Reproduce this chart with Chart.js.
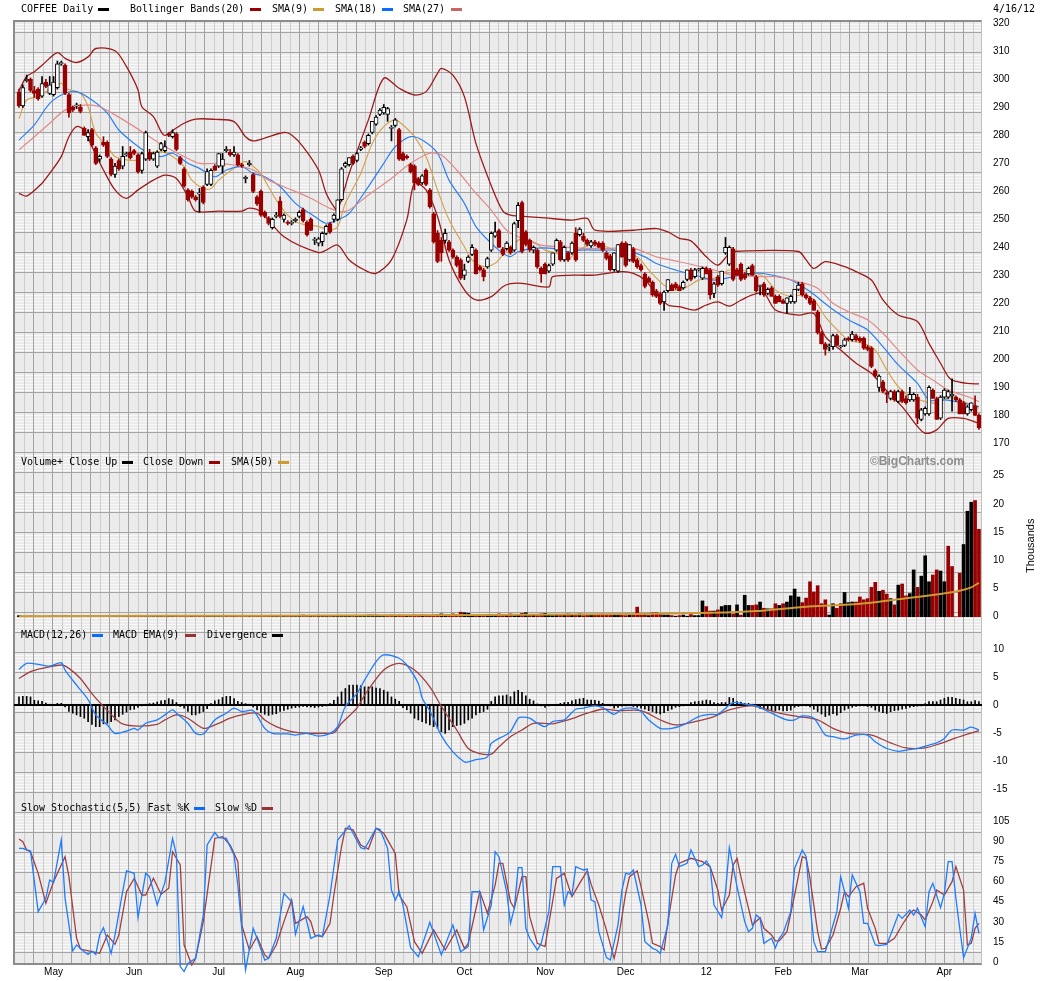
<!DOCTYPE html>
<html>
<head>
<meta charset="utf-8">
<title>COFFEE Daily</title>
<script src="https://cdn.jsdelivr.net/npm/chart.js@4.4.1/dist/chart.umd.min.js"></script>
<style>
  body { margin: 0; background: #fff; }
  #page { position: relative; width: 1045px; height: 981px; overflow: hidden; background: #fff; }
  #page canvas { position: absolute; left: 0; top: 0; }
  .t { position: absolute; font: 10px/12px "DejaVu Sans Mono", monospace; color: #000; white-space: pre; }
  .k { position: absolute; width: 11px; height: 3px; }
  #copy { position: absolute; left: 870px; top: 454px; font: bold 12px/14px "Liberation Sans", sans-serif; color: #8f8f8f; }
  #thou { position: absolute; left: 1004px; top: 541px; width: 52px; font: 11px/12px "Liberation Sans", sans-serif; transform: rotate(-90deg); text-align: center; }
</style>
</head>
<body>
<div id="page">
  <canvas id="price" width="1045" height="981"></canvas>
  <canvas id="volume" width="1045" height="981"></canvas>
  <canvas id="macd" width="1045" height="981"></canvas>
  <canvas id="stoch" width="1045" height="981"></canvas>

  <div class="t" style="left:21px;top:3px">COFFEE Daily</div>
  <div class="k" style="left:98px;top:8px;background:#000"></div>
  <div class="t" style="left:130px;top:3px">Bollinger Bands(20)</div>
  <div class="k" style="left:250px;top:8px;background:#990000"></div>
  <div class="t" style="left:272px;top:3px">SMA(9)</div>
  <div class="k" style="left:313px;top:8px;background:#cc9933"></div>
  <div class="t" style="left:335px;top:3px">SMA(18)</div>
  <div class="k" style="left:382px;top:8px;background:#0a6cff"></div>
  <div class="t" style="left:403px;top:3px">SMA(27)</div>
  <div class="k" style="left:451px;top:8px;background:#cc6666"></div>
  <div class="t" style="left:993px;top:3px">4/16/12</div>

  <div class="t" style="left:21px;top:456px">Volume+ Close Up</div>
  <div class="k" style="left:122px;top:461px;background:#000"></div>
  <div class="t" style="left:143px;top:456px">Close Down</div>
  <div class="k" style="left:209px;top:461px;background:#990000"></div>
  <div class="t" style="left:231px;top:456px">SMA(50)</div>
  <div class="k" style="left:278px;top:461px;background:#cc9933"></div>
  <div id="copy">©BigCharts.com</div>
  <div id="thou">Thousands</div>

  <div class="t" style="left:21px;top:629px">MACD(12,26)</div>
  <div class="k" style="left:92px;top:634px;background:#0a6cff"></div>
  <div class="t" style="left:113px;top:629px">MACD EMA(9)</div>
  <div class="k" style="left:185px;top:634px;background:#993333"></div>
  <div class="t" style="left:207px;top:629px">Divergence</div>
  <div class="k" style="left:272px;top:634px;background:#000"></div>

  <div class="t" style="left:21px;top:802px">Slow Stochastic(5,5) Fast %K</div>
  <div class="k" style="left:194px;top:807px;background:#0a6cff"></div>
  <div class="t" style="left:215px;top:802px">Slow %D</div>
  <div class="k" style="left:262px;top:807px;background:#993333"></div>
</div>

<script>
// daily candles, trading day 0 = mid April 2011 ... 250 = 16 Apr 2012: [open, high, low, close]
const ohlc = [
  [295.5,296.5,290,290.5],[290.5,298,290,297],[299.5,301.5,299,300],[300,300.5,295.5,296],[296,297.5,293.5,295],
  [296.5,297,292.5,293],[294,301,293.5,298.5],[299,300,297,297.5],[295,301,294.5,298],[294.5,301,294,299],
  [297,306.5,296.5,305.5],[305.5,306.5,305,306],[305,305.5,294.5,295],[294.5,295,286.5,288],[290,290.5,288.5,289],
  [290.5,291.5,289.5,290.5],[290,291,288,288.5],[282.5,283,280,280],[279.5,282,278,281],[282,282.5,276,276.5],
  [275.5,276,269.5,270],[271.5,273,270.5,272.5],[277.5,279.5,276,276.5],[277.5,278,272,272.5],[271.5,272,265.5,266],
  [266,270,265,269],[271,271.5,267.5,268],[269,276,268,272.5],[273,274,272.5,273.5],[274,276,271.5,272],
  [274.5,275,273,273.5],[273,273.5,266.5,267],[267.5,274,266.5,273.5],[271.5,281.5,271,281],[274,275,271,271.5],
  [271.5,274,271,273.5],[269,274.5,268.5,274],[275,277.5,274.5,277],[274.5,278,274,276],[280.5,281,279.5,280],
  [279.5,282,279,281],[280.5,281,274.5,275],[272,272.5,269.5,270],[268,268.5,261.5,262],[260.5,261,256.5,257],
  [260,260.5,257.5,258],[258,258.5,256.5,257],[259,261,252.5,259.5],[261.5,262,255.5,256],[262.5,268,262,267],
  [262.5,268,262,267.5],[269,269.5,267.5,267.5],[269,273.5,268.5,273.5],[269,273.5,266.5,271.5],[274.5,276,274,275],
  [274,275,272.5,273],[273,276,272.5,274],[273,273.5,269,269.5],[269.5,270,268.5,269],[264.5,265.5,263,265],
  [269.5,271,269,270],[266,266.5,259.5,260],[258,258.5,255,255.5],
  [260,260.5,251,251.5],[252.5,253,250.5,251],[250.5,251,248,248.5],[247,250.5,246.5,250],[251,252.5,250.5,251.5],
  [256.5,258,250.5,251],[250,252,249,251.5],[249,249.5,248,248.5],[248.5,249.5,248,249],[249.5,250.5,249,250],
  [251,253,250.5,252.5],[253.5,254,249,249.5],[249,249.5,244,244.5],[250,250.5,246,246],[242.5,243.5,241,242.5],
  [241.5,243.5,240.5,243],[242,245.5,240.5,245],[245,248,244.5,247.5],[248.5,249,245,245.5],[250,252,249,251.5],
  [250,257,249.5,257],[257,268.5,256.5,268],[269,270.5,268.5,270],[269.5,272,269,272],[272.5,273,269.5,270],
  [271,274,270.5,273.5],[275,276,274.5,275.5],[277.5,278,275.5,276],[277,280.5,276.5,280],[281,285,280.5,285],
  [284,287,283.5,286.5],[287.5,289.5,287,289],[288,291,287.5,290],[287.5,290,285,289.5],[282.5,283.5,278,282.5],
  [283.5,286,283,285.5],[282,282.5,271,271.5],[273.5,274,271,271],[272.5,273,271.5,272],[269.5,270,266.5,267],
  [269,269.5,260.5,263],[264.5,265,262,262.5],[263,266,262.5,265.5],[267.5,268,262,262.5],[260.5,261,254,254.5],
  [252,252.5,241.5,242],[245,246,234.5,235],[242.5,243.5,235,238],[242.5,246.5,241.5,245],[242,242.5,238.5,239],
  [239,239.5,236,236.5],[236.5,237,233,233.5],[235.5,236,228.5,229],[230,234,228.5,232],[235,237,234.5,236.5],
  [237.5,241,237,240],[239,239.5,230.5,230.5],[233,233.5,231.5,232],[232,232.5,228,229.5],[233,236.5,232.5,236],
  [239,245.5,238.5,245],[244,249,243.5,245.5],[246,246.5,240,240],[239.5,240,237,237.5],[239.5,242,239,241.5],
  [240,240.5,237.5,238],[239,249,238.5,248.5],[249.5,256,247,255],[256,256.5,238,238.5],[245.5,246,240.5,241],
  [242.5,243,238.5,239],[239,240.5,238,240],[239,239.5,232.5,233],[232.5,233,227.5,230.5],[234,234.5,230.5,230.5],
  [231.5,234,231,233.5],[234,238,233.5,238],[239,243,238.5,242.5],[242,242.5,235,235.5],[235.5,240.5,235,240],
  [238,238.5,235,235.5],[238,242,237.5,241.5],[245,247,235,235.5],[244.5,247,244,246.5],[244,245,242,242.5],
  [242.5,243,240.5,241],[240.5,242.5,240,242],[242,242.5,240.5,241],[241.5,242,240,240],[241.5,242,238.5,239],
  [238,238.5,235.5,236],[237,237.5,231.5,232],[232,238,231.5,238],[231.5,241,231,241],[241.5,242,236.5,236.5],
  [241.5,242,233,233.5],[235.5,241,235,241],[239.5,240,234.5,235],[235.5,236,232.5,233],[233.5,234,231.5,232],
  [230.5,231,225.5,226],[229,229.5,227.5,227.5],[227.5,228,222.5,223],[224.5,225,222,222.5],[223.5,224,219.5,220],
  [220.5,224.5,217.5,224],[224.5,228.5,224,228.5],[226.5,227,224.5,224.5],[227,227.5,225,225.5],[226,226.5,224.5,224.5],
  [225.5,228,225,227.5],[228.5,232,228,232],[232,232.5,228,228.5],[229.5,232.5,229,232],[232,232.5,231.5,232],
  [229,233,228.5,232.5],[232.5,233,230.5,230.5],[232,232.5,221.5,223],[223.5,227.5,222,227],[229.5,230,226,226.5],
  [227,231.5,226.5,231.5],[238,243.5,237.5,240],[234,240.5,233.5,240],[239.5,240,228,228.5],[232,232.5,230,230],
  [234,234.5,228,228.5],[230.5,231,228.5,229],[230.5,233,230,232.5],[233.5,234,230,230],[229.5,230,224,224.5],
  [226,226.5,223,226],[227,227.5,222.5,223],[223.5,225.5,223,225],[225.5,226,222.5,222.5],[222.5,223,220,220],
  [222.5,223,220.5,220.5],[221,221.5,220,220],[220,222,216.5,222],[220.5,223,220,222.5],[220.5,225,220,225],
  [225,227.5,224.5,226.5],[227,227.5,222.5,223],[223,223.5,221.5,222],[222,222.5,219.5,220],[221,221.5,217.5,217.5],
  [217,217.5,209,209.5],[209.5,210,205.5,205.5],[205.5,206,201.5,203.5],[204.5,205.5,203,204.5],[204.5,209,203.5,208.5],
  [208.5,209,205,205],[204.5,205,204,204.5],[205,207.5,204.5,207],[207.5,208,206.5,207],[207,210,206.5,209],
  [208.5,209,206.5,207],[207.5,208,206,206.5],[207.5,208,203.5,204],[204.5,205,203,203.5],[204,204.5,197,197.5],
  [196,196.5,193.5,194],[190,194.5,188.5,194],[192,192.5,188,188.5],[188,188.5,184.5,187.5],[186,189,185.5,188.5],
  [188.5,189,185,185.5],[185,189,184.5,188.5],[188.5,189,184.5,185],[186,187,184,184.5],[185.5,190,185,187.5],
  [185.5,188,185,187.5],[186.5,187.5,177,179],[178.5,182.5,178,182],[180.5,183,180,182.5],[180.5,190.5,180,190],
  [189,189.5,186,186],[186,186.5,178.5,178.5],[179,187,178.5,186.5],[186.5,189.5,186,189],[186.5,189,186,188.5],
  [187,193,181.5,187.5],[186.5,187,185,185.5],[185.5,186,180.5,180.5],[184.5,185,180.5,180.5],[180.5,183.5,180,183],
  [182,184.5,181.5,184.5],[183.5,187,180,180],[180,180.5,175,175.5]
];

// overlays: [trading day, value]
const bbUpper = [[0,296],[2,301],[4,302.7],[6,305],[10,309.5],[12,307.5],[15,306],[18,308],[20,311],[25,310.2],[28,304.5],[31,296.2],[32,290.2],[35,286.7],[37,281.3],[38,280],[40,281.7],[43,284.3],[46,285.8],[51,285.7],[56,284.9],[59,279.5],[61,278],[64,279],[69,281],[71,280.1],[74,275.9],[78,267.6],[80,259.3],[82,254.5],[83,253.3],[86,266.4],[91,285.5],[95,300.4],[99,296.8],[103,294.4],[106,295.6],[109,302.1],[110,303.9],[113,301.5],[116,293.8],[119,277.1],[123,262],[126,253],[128,251.5],[133,250.9],[137,250.5],[144,249.7],[148,250.3],[150,246.1],[160,246.1],[166,246.7],[169,245.5],[172,243.2],[175,242.3],[179,236.6],[182,233.6],[185,237.8],[187,238.6],[203,238.5],[205,235.5],[207,232.5],[210,234.9],[215,233.1],[218,231.3],[222,228.3],[225,221.2],[229,215.8],[234,213.5],[237,205.7],[240,198.6],[242,193.8],[243,192.6],[247,191.4],[250,191.2]];
const bbLower = [[0,259.3],[2,258.3],[6,262.9],[8,266.4],[11,272.4],[13,279.5],[15,283.1],[17,281.9],[19,276],[22,267.6],[25,260.5],[28,257.5],[31,260.5],[35,264],[38,265.8],[41,264.6],[44,258.1],[46,252.9],[52,252.9],[58,252.9],[60,254],[63,252.7],[69,243.8],[78,238.1],[80,239],[83,240.8],[86,235.5],[90,231.9],[93,230.7],[97,235.5],[101,249.8],[103,262.9],[106,260.5],[109,251],[112,235.5],[116,224.8],[119,221.2],[123,222.4],[126,225.9],[128,227],[131,227.1],[138,225.9],[139,229.5],[150,230.1],[157,231.3],[160,230.7],[163,228.3],[166,223.5],[169,219.4],[172,218.8],[176,217.6],[179,219.4],[182,220.5],[185,219],[188,221.1],[191,223],[194,223.6],[197,217.6],[203,215.8],[207,216.4],[210,208.1],[214,203.3],[218,198.6],[222,195],[225,190.2],[230,183.1],[234,176],[236,173.6],[239,174.8],[242,178.9],[246,178.9],[250,177.2]];
const sma9 = [[0,286],[2,292.6],[5,293.8],[11,298.6],[12,296.8],[16,295],[18,290.2],[20,280.7],[23,276],[25,272.4],[28,271.2],[31,271.2],[33,273],[37,274.2],[40,272.4],[43,268.8],[45,264],[48,261],[50,261],[52,264],[56,268.2],[59,270.6],[63,266.4],[64,264],[67,256.9],[70,251.5],[73,248.6],[78,247.4],[81,246.2],[83,247.4],[85,255.7],[89,266.4],[92,277.1],[95,283.1],[98,285.5],[100,283.7],[103,279.5],[106,272.4],[109,260.5],[112,249.8],[116,240.2],[118,235.5],[121,233.1],[124,234.3],[126,237.3],[128,240.2],[131,243.2],[134,242],[137,239],[140,237.8],[143,235.4],[145,238.4],[150,241.4],[153,240.2],[157,237.8],[161,236.6],[164,231.9],[168,226.5],[171,224.7],[174,225.9],[177,228.3],[181,228.9],[185,231.9],[190,231.3],[194,229.5],[197,224.8],[201,222.4],[204,223],[207,221.2],[210,215.2],[214,209.3],[216,206.9],[220,205.7],[223,203.3],[226,196.2],[229,190.2],[232,186.7],[236,184.9],[239,184.3],[243,186.7],[246,184.9],[250,182.5]];
const sma18 = [[0,278.3],[4,283.7],[8,291.4],[12,295],[15,295.6],[19,292.6],[23,287.9],[26,281.9],[30,277.1],[33,274.2],[37,272.4],[40,273.6],[44,270],[47,268.2],[51,265.2],[54,267.6],[58,268.8],[61,266.4],[64,265.2],[68,261.7],[72,255.7],[77,251],[80,248.6],[83,249.8],[86,252.1],[91,261.7],[95,270],[98,275.9],[102,279.5],[105,278.3],[109,273.6],[112,264],[116,255.7],[119,247.4],[123,241.4],[126,237.9],[128,236.7],[130,238.4],[134,239.6],[139,239.6],[143,238.4],[146,239],[151,239],[158,238.8],[163,236.6],[166,234.2],[171,231.9],[176,230.1],[181,228.3],[186,229.5],[191,230.9],[196,230.1],[201,228.3],[206,224.2],[211,218.8],[216,214.1],[221,210.5],[225,204.5],[229,198],[234,191.4],[237,185.5],[241,185.5],[244,184.9],[250,183.1]];
const sma27 = [[0,274.8],[4,279.5],[8,284.3],[12,289],[17,290.8],[21,290.2],[25,287.3],[30,283.1],[34,279.5],[38,276],[43,272.4],[47,270],[52,270],[56,269.4],[61,267.6],[65,264],[71,260.5],[76,257.5],[81,253.9],[84,252.7],[86,253.3],[91,258.7],[97,264.6],[102,270],[107,273.6],[110,273],[114,267.6],[119,259.3],[123,253.3],[127,246.1],[131,243.2],[136,240.8],[141,240.2],[148,239.6],[153,239.6],[160,239.6],[166,236.6],[170,235.4],[176,233.6],[181,231.9],[186,230.1],[193,229.5],[197,229.5],[203,227.7],[208,225.4],[212,220],[216,217],[221,214.1],[225,209.3],[229,203.3],[234,196.2],[238,192.6],[242,189],[247,186.7],[250,184.9]];

// volume, thousands of contracts, one per trading day
const volume = [
  0.2,0.1,0.1,0.15,0.1,0.1,0.05,0.1,0.1,0.15,0.1,0.1,0.2,0.1,0.1,0.05,0.1,0.1,0.1,0.1,
  0.1,0.05,0.1,0.1,0.1,0.1,0.15,0.1,0.1,0.1,0.1,0.1,0.1,0.05,0.1,0.1,0.1,0.1,0.1,0.1,
  0.1,0.1,0.15,0.1,0.1,0.1,0.1,0.05,0.1,0.1,0.1,0.1,0.1,0.1,0.1,0.1,0.1,0.05,0.1,0.1,
  0.1,0.1,0.1,0.15,0.1,0.1,0.1,0.1,0.1,0.1,0.1,0.1,0.1,0.15,0.3,0.1,0.1,0.1,0.1,0.1,
  0.1,0.15,0.1,0.2,0.1,0.1,0.1,0.1,0.1,0.1,0.2,0.3,0.3,0.3,0.2,0.2,0.1,0.3,0.2,0.3,
  0.2,0.2,0.1,0.3,0.2,0.3,0.3,0.2,0.3,0.4,0.5,0.3,0.3,0.5,0.4,0.8,0.7,0.6,0.3,0.3,
  0.3,0.2,0.2,0.3,0.3,0.5,0.3,0.3,0.5,0.2,0.4,0.6,0.7,0.3,0.3,0.2,0.5,0.6,0.3,0.2,
  0.3,0.4,0.3,0.5,0.3,0.3,0.5,0.2,0.3,0.3,0.4,0.3,0.5,0.3,0.4,0.3,0.4,0.3,0.2,0.3,
  0.3,1.7,0.5,0.5,0.2,0.7,0.7,0.5,0.3,0.3,0.2,0.1,0.2,0.3,0.1,0.4,0.2,0.2,2.8,1.8,
  1.0,1.0,1.2,1.8,2.0,2.0,0.5,2.1,0.3,3.8,2.0,2.0,2.1,2.6,1.5,1.4,1.4,2.3,2.0,2.3,
  2.6,3.7,4.9,3.5,2.5,3.3,6.2,4.4,5.5,2.3,3.0,0.3,2.3,1.5,2.3,4.3,2.5,2.6,2.6,3.5,
  3.0,3.2,5.2,6.1,4.5,4.7,4.0,3.2,2.1,5.6,5.8,3.7,4.1,8.3,5.2,7.2,10.8,6.2,7.4,8.3,
  8.1,6.2,12.5,8.9,0,7.7,12.8,18.7,20.3,20.6,15.5
];
const volSma50 = [[0,0.1],[40,0.15],[80,0.2],[120,0.3],[162,0.5],[184,0.75],[192,1.0],[205,1.78],[214,2.07],[222,2.49],[231,3.26],[240,4.04],[245,4.6],[248,5.2],[250,6.0]];

// MACD(12,26), its EMA(9) and the divergence histogram
const macdLine = [[0,6.4],[2,7.5],[5,7.3],[8,7.0],[11,7.6],[12,6.3],[15,3.6],[18,1.0],[20,-1.7],[23,-3.5],[25,-5.0],[28,-4.6],[30,-4.1],[31,-4.4],[33,-3.2],[36,-2.6],[38,-1.7],[40,-0.8],[41,-1.4],[44,-3.2],[46,-5.0],[48,-5.1],[51,-2.6],[54,-1.4],[56,-0.5],[58,-1.1],[61,-0.95],[64,-4.1],[66,-5.0],[70,-5.1],[72,-5.3],[75,-5.0],[78,-5.5],[81,-5.0],[83,-3.8],[85,-0.2],[88,2.1],[90,4.5],[93,7.8],[95,9.0],[99,8.4],[101,7.2],[104,3.9],[105,1.3],[107,-1.0],[110,-5.4],[113,-8.3],[116,-10.1],[117,-10.1],[119,-9.7],[122,-9.2],[123,-6.8],[127,-5.2],[128,-4.7],[130,-2.3],[131,-2.1],[133,-2.3],[135,-3.2],[137,-3.8],[139,-2.9],[142,-2.6],[143,-2.0],[145,-0.7],[147,-0.5],[150,-0.1],[152,-0.4],[155,-1.6],[157,-0.7],[160,-0.5],[162,-1.1],[164,-2.6],[167,-4.1],[170,-4.1],[173,-3.5],[177,-2.0],[180,-1.6],[182,-1.6],[186,0.5],[189,0.2],[192,-0.1],[196,-1.4],[200,-2.6],[202,-2.6],[204,-1.9],[207,-2.3],[210,-5.3],[212,-5.6],[215,-6.0],[218,-5.3],[221,-5.3],[223,-6.5],[226,-7.7],[229,-8.2],[231,-8.0],[234,-7.7],[237,-7.1],[239,-6.7],[241,-5.9],[243,-4.4],[246,-4.4],[248,-3.9],[250,-4.4]];
const macdEma = [[0,4.8],[3,6.0],[6,6.6],[11,7.2],[13,6.6],[16,4.8],[19,2.1],[22,-0.2],[25,-2.3],[27,-3.3],[31,-3.7],[36,-3.4],[38,-2.6],[41,-1.7],[44,-2.3],[48,-4.1],[51,-3.5],[55,-2.3],[58,-1.7],[62,-1.4],[64,-2.6],[67,-3.8],[71,-4.7],[75,-5.0],[79,-5.0],[82,-4.9],[84,-3.2],[88,-0.5],[90,1.8],[95,6.3],[99,7.5],[103,6.3],[107,3.3],[110,-0.2],[114,-4.4],[117,-7.7],[120,-8.6],[123,-8.7],[125,-7.4],[128,-5.6],[131,-4.4],[134,-3.2],[139,-3.3],[143,-2.6],[148,-1.4],[152,-0.7],[156,-0.95],[162,-0.95],[167,-2.6],[171,-3.5],[176,-2.9],[181,-2.0],[185,-0.8],[191,-0.1],[198,-1.4],[203,-2.0],[208,-2.6],[212,-4.1],[216,-5.0],[222,-5.3],[227,-6.7],[231,-7.6],[236,-7.6],[240,-6.8],[244,-5.8],[250,-4.5]];
const divergence = [
  1.5,1.6,1.6,1.5,0.9,0.8,0.7,0.4,0.2,0.1,0.35,0.35,
  -0.3,-1.1,-1.4,-1.7,-2.0,-2.3,-2.9,-3.4,-3.8,-3.8,-3.3,-3.2,-2.9,-2.6,-2.0,-1.6,-1.2,-0.8,-0.7,-0.35,-0.1,
  0.2,0.3,0.4,0.6,0.8,0.9,1.2,1.0,0.5,
  -0.2,-0.5,-1.1,-1.7,-1.7,-1.4,-1.1,-0.6,
  0.3,0.8,1.0,1.4,1.6,1.6,1.2,0.7,0.5,0.3,0.2,
  -0.3,-0.8,-1.3,-1.6,-1.8,-1.6,-1.5,-1.1,-0.9,-0.7,-0.5,-0.4,-0.3,-0.2,-0.3,-0.3,-0.4,-0.3,-0.2,-0.1,
  0.3,0.9,1.5,2.4,3.0,3.6,3.6,3.6,3.5,3.3,3.3,3.3,3.1,3.0,2.7,2.4,1.5,1.1,0.7,
  -0.4,-0.8,-1.4,-2.3,-2.6,-2.9,-3.2,-3.5,-3.8,-4.1,-4.7,-5.0,-4.4,-3.8,-3.6,-3.5,-3.2,-2.6,-2.3,-1.7,-1.3,-1.1,-0.7,
  0.7,1.5,1.7,
  1.7,1.85,1.55,2.4,2.7,2.3,1.7,1.1,0.8,0.25,-0.1,-0.35,-0.1,0.1,0.2,0.35,0.5,0.55,0.8,1.0,
  1.15,1.25,0.95,0.95,0.9,0.75,0.35,0.05,-0.1,-0.5,-0.35,-0.15,-0.1,0.1,-0.2,-0.35,-0.5,-0.7,-0.95,-1.1,
  -1.4,-1.55,-1.3,-0.95,-0.7,-0.35,-0.25,-0.1,0.2,0.5,0.65,0.7,0.8,0.95,0.85,0.5,0.35,0.5,0.5,1.4,
  1.25,0.65,0.6,0.35,0.35,0.2,-0.25,-0.55,-0.7,-0.85,-1.0,-1.0,-0.85,-1.0,-0.95,-0.85,-0.35,-0.2,-0.1,-0.1,
  -0.3,-0.7,-1.1,-1.55,-2.0,-1.75,-1.5,-1.75,-1.3,-0.85,-0.55,-0.35,-0.2,-0.1,-0.1,-0.2,-0.35,-0.85,-1.1,-1.3,
  -1.45,-1.15,-0.95,-0.85,-0.7,-0.55,-0.35,-0.25,-0.15,-0.1,0.3,0.65,0.65,0.65,0.95,1.25,1.45,1.45,1.25,1.1,
  0.95,0.65,0.65,0.85,0.65
];

// slow stochastic(5,5)
const fastK = [[0,84.7],[1,84.7],[3,82.7],[5,37.6],[7,47.5],[8,61.2],[9,59.4],[11,90.9],[12,47.5],[14,8.3],[15,12.8],[17,7.8],[18,5.8],[19,8.3],[20,5.8],[21,20.2],[22,25.7],[24,6.6],[25,20.2],[27,52.5],[28,67.9],[30,66.1],[31,33.1],[33,66.1],[34,63.6],[36,42.5],[38,59.4],[40,92.1],[41,79.8],[42,-3.3],[43,-7.0],[44,-0.9],[46,2.9],[48,35.1],[49,87.2],[51,96.6],[52,92.7],[54,92.1],[56,79.8],[57,57.4],[59,-5.8],[61,25.2],[62,17.8],[64,1.6],[65,2.9],[67,17.8],[69,51.2],[71,45],[72,20.7],[74,41.3],[76,17.8],[78,20.2],[79,19],[81,50],[83,90.9],[86,101.6],[87,95.9],[89,85.2],[90,84.2],[93,99.6],[94,98.9],[96,84.7],[97,53.7],[98,46.3],[99,52.5],[100,42.5],[102,10.8],[104,4.1],[107,29.7],[110,5.4],[113,27.7],[115,7.8],[117,11.6],[118,52.5],[120,52.5],[121,24],[123,42.5],[124,82.2],[125,78.5],[127,52.5],[128,28.9],[129,40.1],[130,70.3],[131,70.3],[132,25.2],[133,17.8],[135,9.1],[136,14],[138,37.6],[139,71.1],[141,71.1],[142,42.5],[143,52.5],[144,50],[145,71.1],[147,68.6],[148,69.3],[149,46.3],[150,45],[151,22.7],[153,3.4],[154,1.6],[156,27.7],[157,53],[158,66.1],[159,65.4],[160,68.6],[162,42.5],[163,15.3],[165,10.3],[166,9.1],[167,6.6],[169,27.7],[170,73.6],[171,80.3],[172,71.1],[174,73.6],[175,83.5],[177,71.1],[178,72.3],[179,75.3],[180,71.1],[181,42.5],[183,33.1],[184,52.5],[185,85.2],[187,56.2],[189,30.2],[190,22.7],[191,25.2],[192,35.1],[193,32.6],[194,14],[196,17.8],[197,10.8],[198,17.8],[199,21.5],[201,37.6],[202,69.8],[204,83.5],[205,78.5],[206,43.8],[207,15.3],[208,7.8],[210,7.8],[211,17.8],[213,37.6],[214,63.6],[215,52.5],[216,40.1],[217,64.9],[219,52.5],[220,28.9],[221,28.9],[223,12.8],[224,12.3],[226,13.3],[227,20.2],[229,35.6],[230,32.6],[232,38.8],[233,35.1],[234,40.1],[236,26.4],[237,52.5],[238,58.7],[240,40.6],[241,51.2],[242,74.8],[243,74.8],[244,47.5],[245,25.2],[246,3.4],[248,17.8],[249,36.4],[250,21.5]];
const slowD = [[0,91.7],[1,89.7],[2,83.5],[3,82.2],[5,66.1],[7,43.8],[9,59.9],[12,78.5],[13,63.6],[15,17.8],[16,9.8],[19,7.8],[21,6.6],[23,20.2],[25,13.3],[26,20.2],[28,52.5],[30,62.4],[32,50],[33,50],[35,62.4],[37,50.5],[39,55],[40,82.2],[42,72.3],[43,12.8],[45,-2.1],[46,2.9],[48,30.2],[51,92.1],[53,93.4],[55,87.2],[57,74.8],[58,27.7],[60,9.1],[62,19],[64,5.4],[65,2.9],[67,12.8],[69,30.2],[71,46.3],[72,28.9],[75,33.9],[76,30.2],[77,20.2],[79,19],[81,28.9],[82,50],[84,85.9],[85,99.6],[87,98.4],[89,87.2],[91,84.2],[93,99.6],[95,95.9],[98,81],[99,50],[101,41.3],[103,15.3],[105,6.6],[108,24],[111,9.1],[114,24],[116,10.3],[117,14],[120,52.5],[122,36.4],[124,57.4],[125,73.6],[126,73.6],[128,45],[129,40.1],[131,63.6],[132,63.6],[133,33.9],[135,14],[137,11.6],[138,28.9],[140,62.4],[142,66.1],[143,57.4],[144,48.8],[146,58.7],[148,67.9],[149,57.9],[151,42.5],[153,23.9],[155,2.9],[156,15.3],[158,51.2],[159,63.6],[161,67.9],[162,56.2],[164,30.2],[165,14],[167,11.6],[168,9.1],[169,30.2],[171,64.9],[172,73.6],[175,77.3],[178,74.8],[180,71.1],[182,53.7],[183,38.8],[185,50],[186,72.3],[187,77.3],[188,63.6],[190,40.1],[191,27.7],[193,33.1],[194,25.2],[196,20.2],[197,15.8],[198,15.8],[200,22.7],[202,50],[204,78.5],[205,77.3],[206,62.4],[208,22.7],[209,9.8],[210,10.3],[212,20.2],[214,40.1],[215,52.5],[216,48.8],[218,56.2],[220,58.7],[221,40.1],[223,25.2],[224,14],[226,14],[228,17.8],[230,27.7],[232,36.4],[233,38.8],[235,35.1],[236,31.4],[238,45],[239,53.7],[241,50],[243,59.9],[244,71.1],[246,53.7],[247,12.8],[248,14],[249,25.2],[250,28.9]];

// axis labels
const priceTicks = [170,180,190,200,210,220,230,240,250,260,270,280,290,300,310,320];
const volTicks = [0,5,10,15,20,25];
const macdTicks = [-15,-10,-5,0,5,10];
const stochTicks = [0,15,30,45,60,75,90,105];
const monthDays = [9,30,52,72,95,116,137,158,179,199,219,241];
const monthLabels = ['May','Jun','Jul','Aug','Sep','Oct','Nov','Dec','12','Feb','Mar','Apr'];

const W = 1045, H = 981;
const PLOT_RIGHT = 982;
const DOWN = '#990000';

Chart.defaults.font.family = '"Liberation Sans", Arial, sans-serif';
Chart.defaults.font.size = 10;
Chart.defaults.color = '#000';

// grey chart paper with weekly columns and 20px rows
const panelGrid = {
  id: 'panelGrid',
  beforeDraw(chart, args, opts) {
    const { ctx, chartArea: a } = chart;
    const w = a.right - a.left, h = a.bottom - a.top;
    ctx.save();
    ctx.beginPath();
    ctx.rect(a.left, a.top, w, h);
    ctx.clip();
    ctx.fillStyle = '#ebebeb';
    ctx.fillRect(a.left, a.top, w, h);
    ctx.fillStyle = '#f9f9f9';
    for (let k = Math.floor((a.top - 12) / 20); 12 + 20 * k < a.bottom; k++) {
      if (((k % 2) + 2) % 2 !== 0) continue;
      const y0 = 12 + 20 * k;
      for (let s = 3; s < 20; s += 3) ctx.fillRect(a.left, y0 + s, w, 1);
    }
    for (let j = -1; j < 60; j++) {
      const x = 33.3 + 18.98 * j;
      ctx.fillStyle = '#cdcdcd';
      ctx.fillRect(Math.round(x + 9.49), a.top, 1, h);
      ctx.fillStyle = '#a3a3a3';
      ctx.fillRect(Math.round(x), a.top, 1, h);
    }
    ctx.fillStyle = '#a3a3a3';
    for (let y = 12 + 20 * Math.ceil((a.top - 12) / 20); y < a.bottom; y += 20) {
      ctx.fillRect(a.left, y, w, 1);
    }
    ctx.restore();
    ctx.save();
    ctx.fillStyle = '#8c8c8c';
    ctx.fillRect(a.left - 1, a.top, 2, h);
    if (opts.top) ctx.fillRect(a.left - 1, a.top - 1, w + 1, 2);
    if (opts.bottom) ctx.fillRect(a.left - 1, a.bottom - 1, w + 1, 2);
    ctx.fillStyle = '#c0c0c0';
    ctx.fillRect(a.right - 1, a.top, 1, h);
    ctx.restore();
  },
  beforeDatasetsDraw(chart, args, opts) {
    if (!opts.zero) return;
    const { ctx, chartArea: a } = chart;
    const y = Math.round(chart.scales.y.getPixelForValue(0));
    ctx.save();
    ctx.fillStyle = '#000';
    ctx.fillRect(a.left, y - 1, a.right - a.left, 2);
    ctx.restore();
  }
};

function panelOptions(top, bottom, yMin, yMax, yTicks, extra) {
  extra = extra || {};
  return {
    responsive: false,
    animation: false,
    events: [],
    layout: { padding: { left: 14, right: 0, top: top, bottom: extra.showX ? 0 : H - bottom }, autoPadding: false },
    plugins: {
      legend: { display: false },
      tooltip: { enabled: false },
      panelGrid: { zero: !!extra.zero, top: !!extra.top, bottom: !!extra.showX }
    },
    scales: {
      x: {
        type: 'linear', min: -1.3, max: 250.8, offset: false,
        display: !!extra.showX,
        grid: { display: false, drawTicks: false, offset: false },
        border: { display: false },
        afterFit: s => { if (extra.showX) s.height = H - bottom; },
        afterBuildTicks: s => { s.ticks = monthDays.map(v => ({ value: v })); },
        ticks: { autoSkip: false, maxRotation: 0, padding: 2, callback: (v, i) => monthLabels[i] }
      },
      y: {
        type: 'linear', position: 'right', min: yMin, max: yMax, beginAtZero: false,
        grid: { display: false, drawTicks: false },
        border: { display: false },
        afterFit: s => { s.width = W - PLOT_RIGHT; },
        afterBuildTicks: s => { s.ticks = yTicks.map(v => ({ value: v })); },
        ticks: { autoSkip: false, padding: 11 }
      }
    }
  };
}

function line(points, color, width, extra) {
  return Object.assign({
    type: 'line',
    data: points.map(p => ({ x: p[0], y: p[1] })),
    borderColor: color,
    borderWidth: width,
    pointRadius: 0,
    tension: 0.3,
    fill: false,
    order: 5
  }, extra || {});
}

const isUp = ohlc.map(c => c[3] >= c[0]);
const closeUp = ohlc.map((c, i) => i === 0 || c[3] >= ohlc[i - 1][3]);

new Chart(document.getElementById('price'), {
  type: 'bar',
  data: {
    datasets: [
      line(bbUpper, '#9e1a1a', 1.3),
      line(bbLower, '#9e1a1a', 1.3),
      line(sma27, '#e28a8a', 1.2),
      line(sma18, '#2b80f5', 1.2),
      line(sma9, '#d6a450', 1.2),
      {
        data: ohlc.map((c, i) => ({ x: i, y: [c[2], c[1]] })),
        backgroundColor: isUp.map(u => u ? '#000' : DOWN),
        barThickness: 1, grouped: false, order: 1
      },
      {
        data: ohlc.map((c, i) => ({ x: i, y: [c[0], c[3]] })),
        backgroundColor: isUp.map(u => u ? '#fff' : DOWN),
        borderColor: isUp.map(u => u ? '#000' : DOWN),
        borderWidth: 1, borderSkipped: false, minBarLength: 1,
        barThickness: 4, grouped: false, order: 0
      }
    ]
  },
  options: panelOptions(21, 452, 166.9, 320.82, priceTicks, { top: true }),
  plugins: [panelGrid]
});

new Chart(document.getElementById('volume'), {
  type: 'bar',
  data: {
    datasets: [
      line(volSma50, '#cc9933', 2, { order: 0, tension: 0.2 }),
      {
        data: volume.map((v, i) => ({ x: i, y: v })),
        backgroundColor: closeUp.map(u => u ? '#000' : DOWN),
        barThickness: 3, grouped: false, order: 1
      }
    ]
  },
  options: panelOptions(452, 621, -0.76, 29.2, volTicks),
  plugins: [panelGrid]
});

new Chart(document.getElementById('macd'), {
  type: 'bar',
  data: {
    datasets: [
      line(macdEma, '#a04040', 1.3, { order: 1 }),
      line(macdLine, '#1f7cff', 1.3, { order: 0 }),
      {
        data: divergence.map((v, i) => ({ x: i, y: v })),
        backgroundColor: '#000',
        barThickness: 1, grouped: false, order: 2
      }
    ]
  },
  options: panelOptions(621, 795, -16.0, 15.05, macdTicks, { zero: true }),
  plugins: [panelGrid]
});

new Chart(document.getElementById('stoch'), {
  type: 'line',
  data: {
    datasets: [
      line(slowD, '#a04040', 1.3, { tension: 0, clip: false, order: 1 }),
      line(fastK, '#1f7cff', 1.3, { tension: 0, clip: false, order: 0 })
    ]
  },
  options: panelOptions(795, 964, -1.34, 124.4, stochTicks, { showX: true }),
  plugins: [panelGrid]
});
</script>
</body>
</html>
